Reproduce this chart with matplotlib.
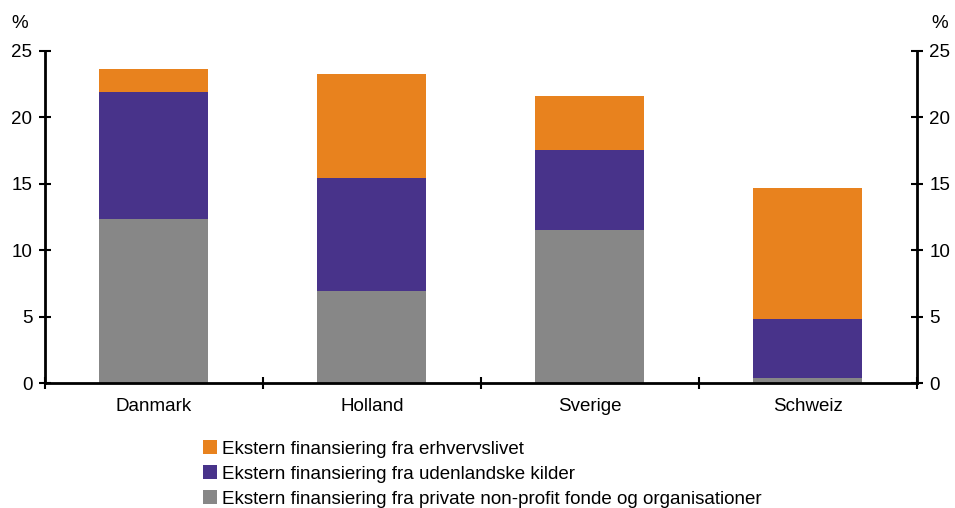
import matplotlib.pyplot as plt
import numpy as np

plt.rcParams['font.family'] = ['Liberation Sans', 'DejaVu Sans']

countries = ["Danmark", "Holland", "Sverige", "Schweiz"]
private_nonprofit = [12.35, 6.95, 11.5, 0.4]
foreign = [9.55, 8.5, 6.05, 4.4]
business = [1.75, 7.8, 4.05, 9.85]

labels = [
    "Ekstern finansiering fra erhvervslivet",
    "Ekstern finansiering fra udenlandske kilder",
    "Ekstern finansiering fra private non-profit fonde og organisationer",
]
colors = ["#E8821E", "#48338A", "#878787"]

fs = 13.5
fig = plt.figure(figsize=(9.55, 5.08), dpi=100)
ax = fig.add_axes([0.047, 0.246, 0.913, 0.654])

x = np.arange(len(countries))
w = 0.5
b1 = ax.bar(x, private_nonprofit, w, color=colors[2])
bottom = np.array(private_nonprofit)
b2 = ax.bar(x, foreign, w, bottom=bottom, color=colors[1])
bottom = bottom + np.array(foreign)
b3 = ax.bar(x, business, w, bottom=bottom, color=colors[0])

ax.set_xlim(-0.5, 3.5)
ax.set_ylim(0, 25)
ax.set_yticks(range(0, 26, 5))
ax.set_xticks(np.arange(-0.5, 4, 1))
ax.set_xticklabels([])
ax.set_xticks(x, minor=True)
ax.set_xticklabels(countries, minor=True, fontsize=fs)
ax.tick_params(axis='x', which='minor', length=0, pad=11)
ax.tick_params(axis='x', which='major', direction='inout', length=8, width=1.5)
ax.tick_params(axis='y', direction='inout', length=8, width=1.5, labelsize=fs,
               left=True, right=True, labelleft=True, labelright=True, pad=5)

ax.spines['top'].set_visible(False)
for s in ['left', 'right', 'bottom']:
    ax.spines[s].set_linewidth(2)

fig.text(0.012, 0.945, "%", fontsize=fs)
fig.text(0.975, 0.945, "%", fontsize=fs)

fig.legend([b3, b2, b1], labels, loc='upper left', bbox_to_anchor=(0.213, 0.133),
           frameon=False, fontsize=fs, handlelength=0.7, handleheight=0.7,
           handletextpad=0.3, labelspacing=0.42, borderaxespad=0, borderpad=0)

fig.savefig("out.png", dpi=100)
